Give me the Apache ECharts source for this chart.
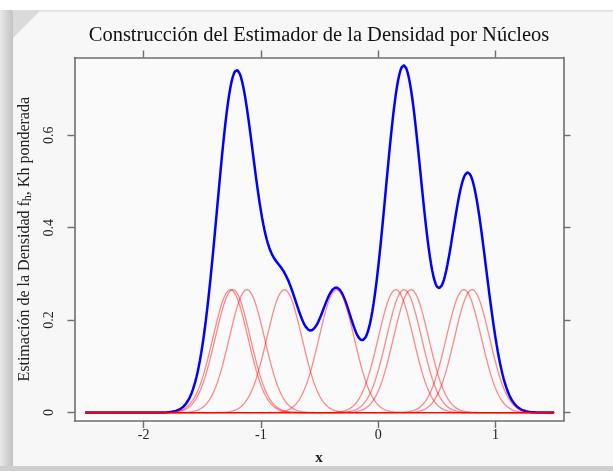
<!DOCTYPE html>
<html>
<head>
<meta charset="utf-8">
<script src="https://cdn.jsdelivr.net/npm/echarts@6/dist/echarts.min.js"></script>
<style>
  html, body { margin: 0; padding: 0; background: #ffffff; }
  #chart { width: 613px; height: 471px; }
</style>
</head>
<body>
<div id="chart"></div>
<script>
// Sample observations (kernel centres) and kernel settings
const observations = [-1.26, -1.24, -1.12, -0.80, -0.355, 0.15, 0.22, 0.28, 0.73, 0.80];
const bandwidth = 0.15;
const gridFrom = -2.5;
const gridTo = 1.5;
const gridStep = 0.01;

// Axis ticks
const xTicks = [-2, -1, 0, 1];
const yTicks = [0, 0.2, 0.4, 0.6];

const n = observations.length;
const xs = [];
for (let i = 0; Math.round(i) <= Math.round((gridTo - gridFrom) / gridStep); i++) {
  xs.push(+(gridFrom + i * gridStep).toFixed(4));
}

// weighted Gaussian kernel K_h(x - xi) / n
function weightedKernel(x, xi) {
  const u = (x - xi) / bandwidth;
  return Math.exp(-0.5 * u * u) / (n * bandwidth * Math.sqrt(2 * Math.PI));
}

const kernelSeries = observations.map(xi => ({
  type: 'line',
  data: xs.map(x => [x, weightedKernel(x, xi)]),
  showSymbol: false,
  silent: true,
  lineStyle: { color: 'rgba(255,0,0,0.45)', width: 1.3 },
  z: 3
}));

const densitySeries = {
  type: 'line',
  data: xs.map(x => [x, observations.reduce((s, xi) => s + weightedKernel(x, xi), 0)]),
  showSymbol: false,
  silent: true,
  lineStyle: { color: '#0000ff', width: 2.5 },
  z: 2
};

const serif = '"Liberation Serif", "DejaVu Serif", serif';
const boxColor = '#6e6e6e';

const chart = echarts.init(document.getElementById('chart'), null, { renderer: 'canvas' });
chart.setOption({
  animation: false,
  backgroundColor: 'transparent',
  title: {
    text: 'Construcción del Estimador de la Densidad por Núcleos',
    left: 314, top: 20, textAlign: 'center',
    textStyle: { fontFamily: serif, fontSize: 20.5, fontWeight: 'normal', color: '#111' }
  },
  graphic: [
    // frame decoration
    { type: 'rect', z: -10, shape: { x: 12, y: 10, width: 601, height: 456 },
      style: { fill: '#f7f7f7' } },
    { type: 'rect', z: -9, shape: { x: 0, y: 10, width: 13, height: 461 },
      style: { fill: new echarts.graphic.LinearGradient(0, 0, 1, 0, [
        { offset: 0, color: '#e8e8e8' }, { offset: 1, color: '#c2c2c2' }]) } },
    { type: 'rect', z: -9, shape: { x: 0, y: 466, width: 613, height: 5 },
      style: { fill: '#cfcfcf' } },
    { type: 'rect', z: -9, shape: { x: 12, y: 10, width: 601, height: 1.5 },
      style: { fill: '#dcdcdc' } },
    { type: 'polygon', z: -9, shape: { points: [[13, 11], [40, 11], [13, 38]] },
      style: { fill: '#dadada' } },
    { type: 'rect', z: -8, shape: { x: 74.5, y: 57.5, width: 489, height: 367 },
      style: { fill: '#fafafa' } }
  ],
  grid: { left: 74.5, right: 49.5, top: 57.5, bottom: 46.5, containLabel: false },
  xAxis: [
    {
      type: 'value', min: -2.59, max: 1.58, position: 'bottom',
      name: 'x', nameLocation: 'middle', nameGap: 30,
      nameTextStyle: { fontFamily: serif, fontSize: 15, fontWeight: 'bold', color: '#222' },
      axisLine: { show: true, onZero: false, lineStyle: { color: boxColor, width: 1.6 } },
      axisTick: { show: true, inside: false, length: 7, customValues: xTicks,
        lineStyle: { color: boxColor, width: 1.4 } },
      axisLabel: { show: true, customValues: xTicks, margin: 7,
        fontFamily: serif, fontSize: 14, color: '#222', formatter: v => String(v) },
      splitLine: { show: false }
    },
    {
      type: 'value', min: -2.59, max: 1.58, position: 'top',
      axisLine: { show: true, onZero: false, lineStyle: { color: boxColor, width: 1.6 } },
      axisTick: { show: true, inside: false, length: 7, customValues: xTicks,
        lineStyle: { color: boxColor, width: 1.4 } },
      axisLabel: { show: false },
      splitLine: { show: false }
    }
  ],
  yAxis: [
    {
      type: 'value', min: -0.0182, max: 0.768, position: 'left',
      name: 'Estimación de la Densidad {f|f}{h|h}, Kh ponderada',
      nameLocation: 'middle', nameGap: 41, nameRotate: 90,
      nameTextStyle: { fontFamily: serif, fontSize: 16, color: '#222',
        rich: {
          f: { fontFamily: serif, fontSize: 16, color: '#222' },
          h: { fontFamily: serif, fontSize: 12, color: '#222', padding: [5, 0, 0, 0] }
        } },
      axisLine: { show: true, onZero: false, lineStyle: { color: boxColor, width: 1.6 } },
      axisTick: { show: true, inside: false, length: 7, customValues: yTicks,
        lineStyle: { color: boxColor, width: 1.4 } },
      axisLabel: { show: true, customValues: yTicks, rotate: 90, margin: 18,
        fontFamily: serif, fontSize: 14, color: '#222', formatter: v => String(v) },
      splitLine: { show: false }
    },
    {
      type: 'value', min: -0.0182, max: 0.768, position: 'right',
      axisLine: { show: true, onZero: false, lineStyle: { color: boxColor, width: 1.6 } },
      axisTick: { show: true, inside: false, length: 7, customValues: yTicks,
        lineStyle: { color: boxColor, width: 1.4 } },
      axisLabel: { show: false },
      splitLine: { show: false }
    }
  ],
  series: [densitySeries].concat(kernelSeries)
});
</script>
</body>
</html>
